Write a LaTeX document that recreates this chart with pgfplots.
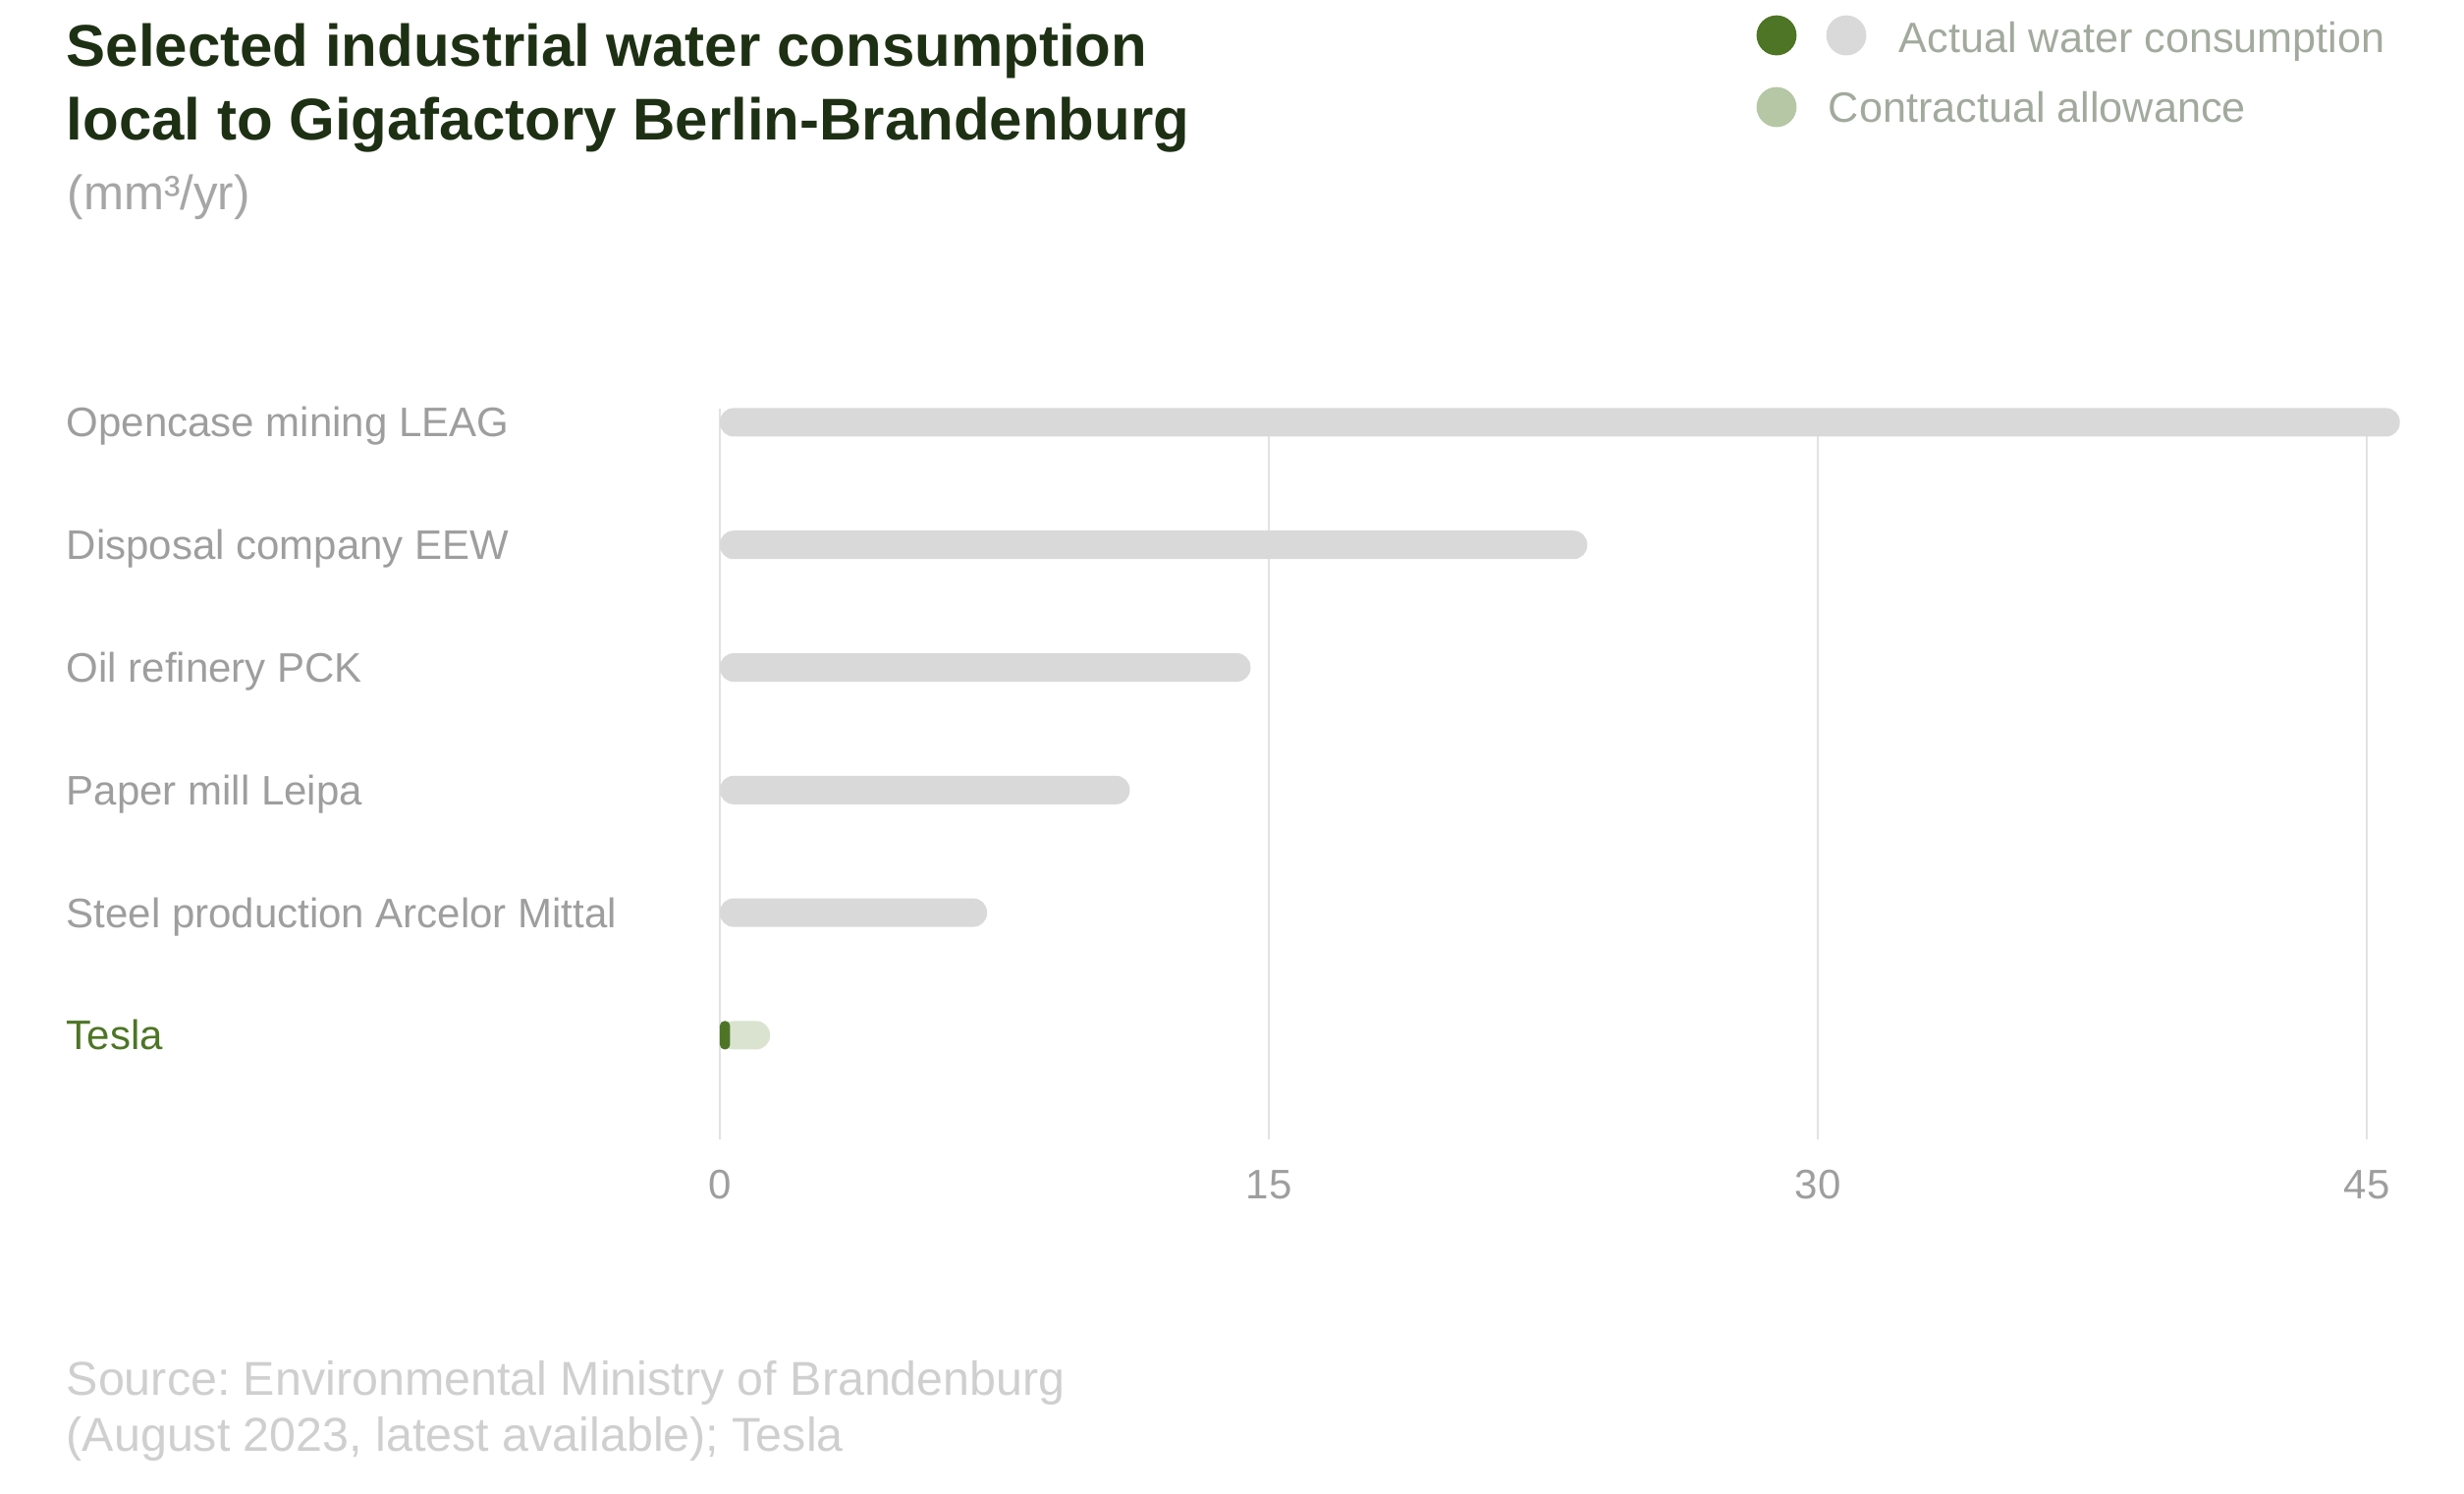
\documentclass[border=0pt]{standalone}
\usepackage{fontspec}
\setmainfont{Liberation Sans}
\usepackage{pgfplots}
\pgfplotsset{compat=1.18}
\frenchspacing

\definecolor{titlegreen}{HTML}{1E3014}
\definecolor{subgray}{HTML}{A6A6A6}
\definecolor{catgray}{HTML}{9E9E9E}
\definecolor{barsgray}{HTML}{D9D9D9}
\definecolor{teslagreen}{HTML}{4E7526}
\definecolor{allowbar}{HTML}{DAE3D0}
\definecolor{allowlegend}{HTML}{B5C7A5}
\definecolor{legendtext}{HTML}{A2AA9E}
\definecolor{srcgray}{HTML}{CFCFCF}
\definecolor{gridgray}{HTML}{E2E2E2}

\begin{document}
\begin{tikzpicture}
	\path[use as bounding box] (0,0) rectangle (627.25pt,-380.25pt);

	% title block
	\node[anchor=base west, inner sep=0pt, text=titlegreen, font=\fontsize{15}{18}\selectfont\bfseries]
		at (16.75pt,-16.75pt) {Selected industrial water consumption};
	\node[anchor=base west, inner sep=0pt, text=titlegreen, font=\fontsize{15}{18}\selectfont\bfseries]
		at (16.75pt,-35.5pt) {local to Gigafactory Berlin-Brandenburg};
	\node[anchor=base west, inner sep=0pt, text=subgray, font=\fontsize{12.3}{14}\selectfont]
		at (17pt,-53.25pt) {(mm³/yr)};

	% legend
	\fill[teslagreen] (452.25pt,-9pt) circle (5.1pt);
	\fill[barsgray] (470pt,-9pt) circle (5.1pt);
	\fill[allowlegend] (452.25pt,-27.25pt) circle (5.1pt);
	\node[anchor=base west, inner sep=0pt, text=legendtext, font=\fontsize{10.8}{13}\selectfont]
		at (483.25pt,-13.25pt) {Actual water consumption};
	\node[anchor=base west, inner sep=0pt, text=legendtext, font=\fontsize{10.8}{13}\selectfont]
		at (465.25pt,-31pt) {Contractual allowance};

	\begin{axis}[
		at={(183.25pt,-290pt)}, anchor=south west,
		x=9.3175pt, y=31.2pt,
		xmin=0, xmax=46.5, ymin=-0.85, ymax=5.112,
		axis line style={draw=none},
		major tick length=0pt,
		xmajorgrids, grid style={draw=gridgray, line width=0.5pt},
		xtick={0,15,30,45},
		ytick={0,1,2,3,4,5},
		yticklabels={\textcolor{teslagreen}{Tesla}, Steel production Arcelor Mittal, Paper mill Leipa,
			Oil refinery PCK, Disposal company EEW, Opencase mining LEAG},
		/pgf/number format/assume math mode=true,
		xticklabel style={anchor=base, inner sep=0pt, yshift=-15pt, text=catgray, font=\fontsize{10.5}{12}\selectfont},
		yticklabel style={anchor=base west, inner sep=0pt, xshift=-166.5pt, yshift=-3.75pt, text=catgray, font=\fontsize{10.5}{12}\selectfont},
		bar width=7.25pt, bar shift=0pt,
	]
		\addplot[xbar, fill=barsgray, draw=none, rounded corners=3.5pt] coordinates {
			(45.9,5) (23.7,4) (14.5,3) (11.2,2) (7.3,1)
		};
		\addplot[xbar, fill=allowbar, draw=none, rounded corners=3.5pt] coordinates {
			(1.37,0)
		};
		\addplot[xbar, fill=teslagreen, draw=none, rounded corners=1.2pt] coordinates {
			(0.28,0)
		};
	\end{axis}

	% source
	\node[anchor=base west, inner sep=0pt, text=srcgray, font=\fontsize{12.1}{14}\selectfont]
		at (16.75pt,-355pt) {Source: Environmental Ministry of Brandenburg};
	\node[anchor=base west, inner sep=0pt, text=srcgray, font=\fontsize{12.1}{14}\selectfont]
		at (16.75pt,-369.25pt) {(August 2023, latest available); Tesla};
\end{tikzpicture}
\end{document}
